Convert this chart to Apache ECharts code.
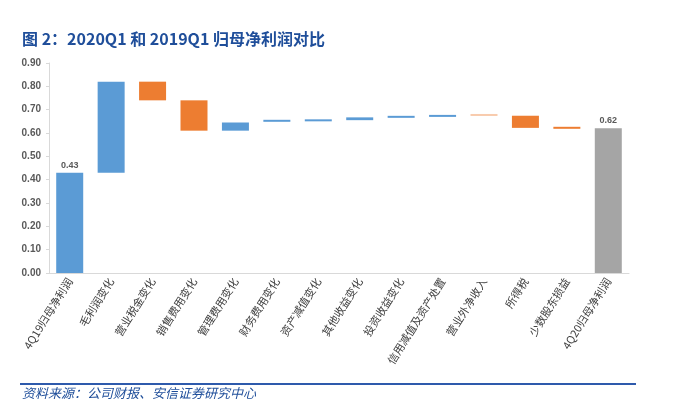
<!DOCTYPE html>
<html><head><meta charset="utf-8">
<script src="https://cdn.jsdelivr.net/npm/echarts@6/dist/echarts.min.js"></script>
<style>html,body{margin:0;padding:0;background:#fff;}#c{width:673px;height:418px;}</style>
</head><body><div id="c"></div>
<script>
const categories = ['4Q19归母净利润','毛利润变化','营业税金变化','销售费用变化','管理费用变化','财务费用变化','资产减值变化','其他收益变化','投资收益变化','信用减值及资产处置','营业外净收入','所得税','少数股东损益','4Q20归母净利润'];
const lows  = [0, 0.43, 0.74, 0.61, 0.61, 0.648, 0.650, 0.655, 0.665, 0.669, 0.673, 0.622, 0.618, 0];
const highs = [0.43, 0.82, 0.82, 0.74, 0.645, 0.651, 0.653, 0.667, 0.668, 0.672, 0.676, 0.674, 0.621, 0.62];
const kinds = ['up','up','down','down','up','up','up','up','up','up','minor','down','down','total'];
const totalLabels = ['0.43','','','','','','','','','','','','','0.62'];
const yTicks = [0,0.1,0.2,0.3,0.4,0.5,0.6,0.7,0.8,0.9];

const colorOf = {up:'#5B9BD5', down:'#ED7D31', minor:'#F8CBAD', total:'#A5A5A5'};
const chart = echarts.init(document.getElementById('c'));
chart.setOption({
  animation:false,
  graphic:[
    {type:'text', left:22, top:31, style:{text:'图 2：2020Q1 和 2019Q1 归母净利润对比', fill:'#1F4E9A', font:'bold 16px "Noto Sans CJK SC", sans-serif'}},
    {type:'rect', shape:{x:20, y:383, width:616, height:2}, style:{fill:'#2E5AAC'}},
    {type:'text', left:22, top:387, style:{text:'资料来源：公司财报、安信证券研究中心', fill:'#1F4E9A', font:'italic 13px "Noto Sans CJK SC", sans-serif'}}
  ],
  grid:{left:49, right:44, top:63, bottom:145, containLabel:false},
  xAxis:{type:'category', data:categories,
    axisLine:{lineStyle:{color:'#D9D9D9'}}, axisTick:{show:false},
    axisLabel:{interval:0, rotate:58, color:'#404040', fontSize:11, fontFamily:'"Noto Sans CJK SC", serif', margin:6}},
  yAxis:{type:'value', min:0, max:0.9, interval:0.1,
    axisLine:{show:true, lineStyle:{color:'#D9D9D9'}}, axisTick:{show:true, length:3, lineStyle:{color:'#D9D9D9'}},
    splitLine:{show:false},
    axisLabel:{color:'#595959', fontSize:10, fontWeight:'bold', fontFamily:'Arial, "Liberation Sans", sans-serif', formatter:v=>v.toFixed(2)}},
  series:[
    {type:'bar', stack:'w', barWidth:27, itemStyle:{color:'transparent'}, data:lows, silent:true},
    {type:'bar', stack:'w', barWidth:27, barMinHeight:2,
      data:highs.map((h,i)=>({value:+(h-lows[i]).toFixed(4), itemStyle:{color:colorOf[kinds[i]]},
        label:{show:totalLabels[i]!=='', position:'top', formatter:totalLabels[i], color:'#595959', fontSize:9, fontWeight:'bold', distance:3}}))}
  ]
});
</script></body></html>
